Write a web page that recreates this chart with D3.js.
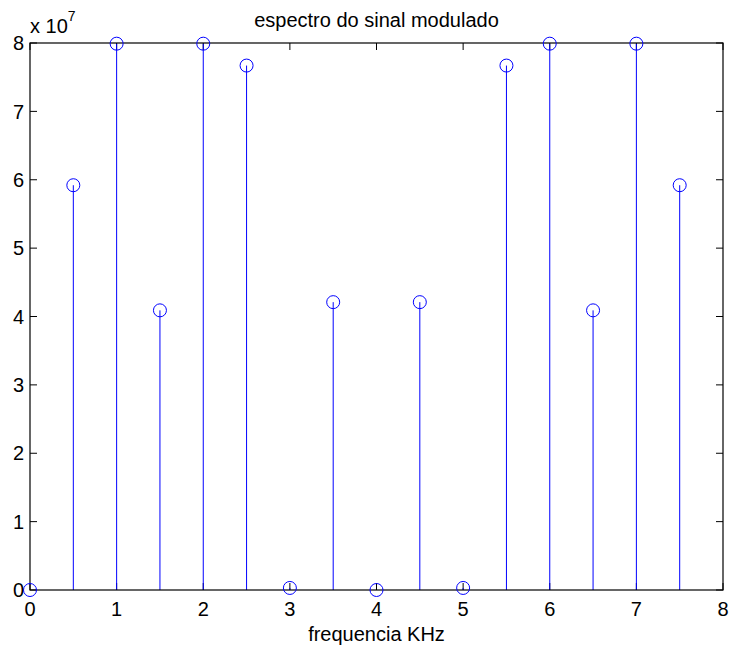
<!DOCTYPE html>
<meta charset="utf-8">
<style>
  body { margin: 0; background: #fff; }
  svg { font-family: "Liberation Sans", Arial, sans-serif; }
</style>
<body>
<svg id="chart" width="732" height="648"></svg>
<script src="https://d3js.org/d3.v7.min.js"></script>
<script>
// frequencias (kHz) e amplitudes do espectro (x 1e7)
var freqs = [0, 0.5, 1, 1.5, 2, 2.5, 3, 3.5, 4, 4.5, 5, 5.5, 6, 6.5, 7, 7.5];
var amps = [0, 5.92, 7.99, 4.09, 7.99, 7.67, 0.03, 4.21, 0, 4.21, 0.03, 7.67, 7.99, 4.09, 7.99, 5.92];
var xTicks = [0, 1, 2, 3, 4, 5, 6, 7, 8];
var yTicks = [0, 1, 2, 3, 4, 5, 6, 7, 8];

var svg = d3.select("#chart");
var mLeft = 30, mRight = 723, mTop = 43, mBottom = 590;

var x = d3.scaleLinear().domain([0, 8]).range([mLeft, mRight]);
var y = d3.scaleLinear().domain([0, 8]).range([mBottom, mTop]);
var tickLen = 7;

// ticks para dentro nos quatro lados
var g = svg.append("g").attr("stroke", "#000").attr("stroke-width", 1);
xTicks.forEach(function (t) {
  g.append("line").attr("x1", x(t)).attr("x2", x(t)).attr("y1", mBottom).attr("y2", mBottom - tickLen);
  g.append("line").attr("x1", x(t)).attr("x2", x(t)).attr("y1", mTop).attr("y2", mTop + tickLen);
});
yTicks.forEach(function (t) {
  g.append("line").attr("x1", mLeft).attr("x2", mLeft + tickLen).attr("y1", y(t)).attr("y2", y(t));
  g.append("line").attr("x1", mRight).attr("x2", mRight - tickLen).attr("y1", y(t)).attr("y2", y(t));
});

// hastes
var data = freqs.map(function (f, i) { return { f: f, v: amps[i] }; });
svg.append("g").selectAll("line").data(data).enter().append("line")
  .attr("x1", function (d) { return x(d.f); })
  .attr("x2", function (d) { return x(d.f); })
  .attr("y1", y(0))
  .attr("y2", function (d) { return y(d.v); })
  .attr("stroke", "#0000ff").attr("stroke-width", 1);

// caixa
svg.append("rect").attr("x", mLeft).attr("y", mTop)
  .attr("width", mRight - mLeft).attr("height", mBottom - mTop)
  .attr("fill", "none").attr("stroke", "#000").attr("stroke-width", 1.2);

// marcadores
svg.append("g").selectAll("circle").data(data).enter().append("circle")
  .attr("cx", function (d) { return x(d.f); })
  .attr("cy", function (d) { return y(d.v); })
  .attr("r", 6.5)
  .attr("fill", "none").attr("stroke", "#0000ff").attr("stroke-width", 1);

// rotulos dos ticks
svg.append("g").selectAll("text").data(xTicks).enter().append("text")
  .attr("x", function (d) { return x(d); }).attr("y", 616)
  .attr("text-anchor", "middle").attr("font-size", 20).text(function (d) { return d; });
svg.append("g").selectAll("text").data(yTicks).enter().append("text")
  .attr("x", mLeft - 6).attr("y", function (d) { return y(d); })
  .attr("dy", "0.36em")
  .attr("text-anchor", "end").attr("font-size", 20).text(function (d) { return d; });

// expoente
var ex = svg.append("text").attr("x", mLeft).attr("y", 33).attr("font-size", 20);
ex.append("tspan").text("x 10");
ex.append("tspan").attr("dy", -12).attr("font-size", 14).text("7");

// titulo e rotulo
svg.append("text").attr("x", (mLeft + mRight) / 2).attr("y", 27)
  .attr("text-anchor", "middle").attr("font-size", 20).text("espectro do sinal modulado");
svg.append("text").attr("x", (mLeft + mRight) / 2).attr("y", 641)
  .attr("text-anchor", "middle").attr("font-size", 20).text("frequencia KHz");
</script>
</body>
